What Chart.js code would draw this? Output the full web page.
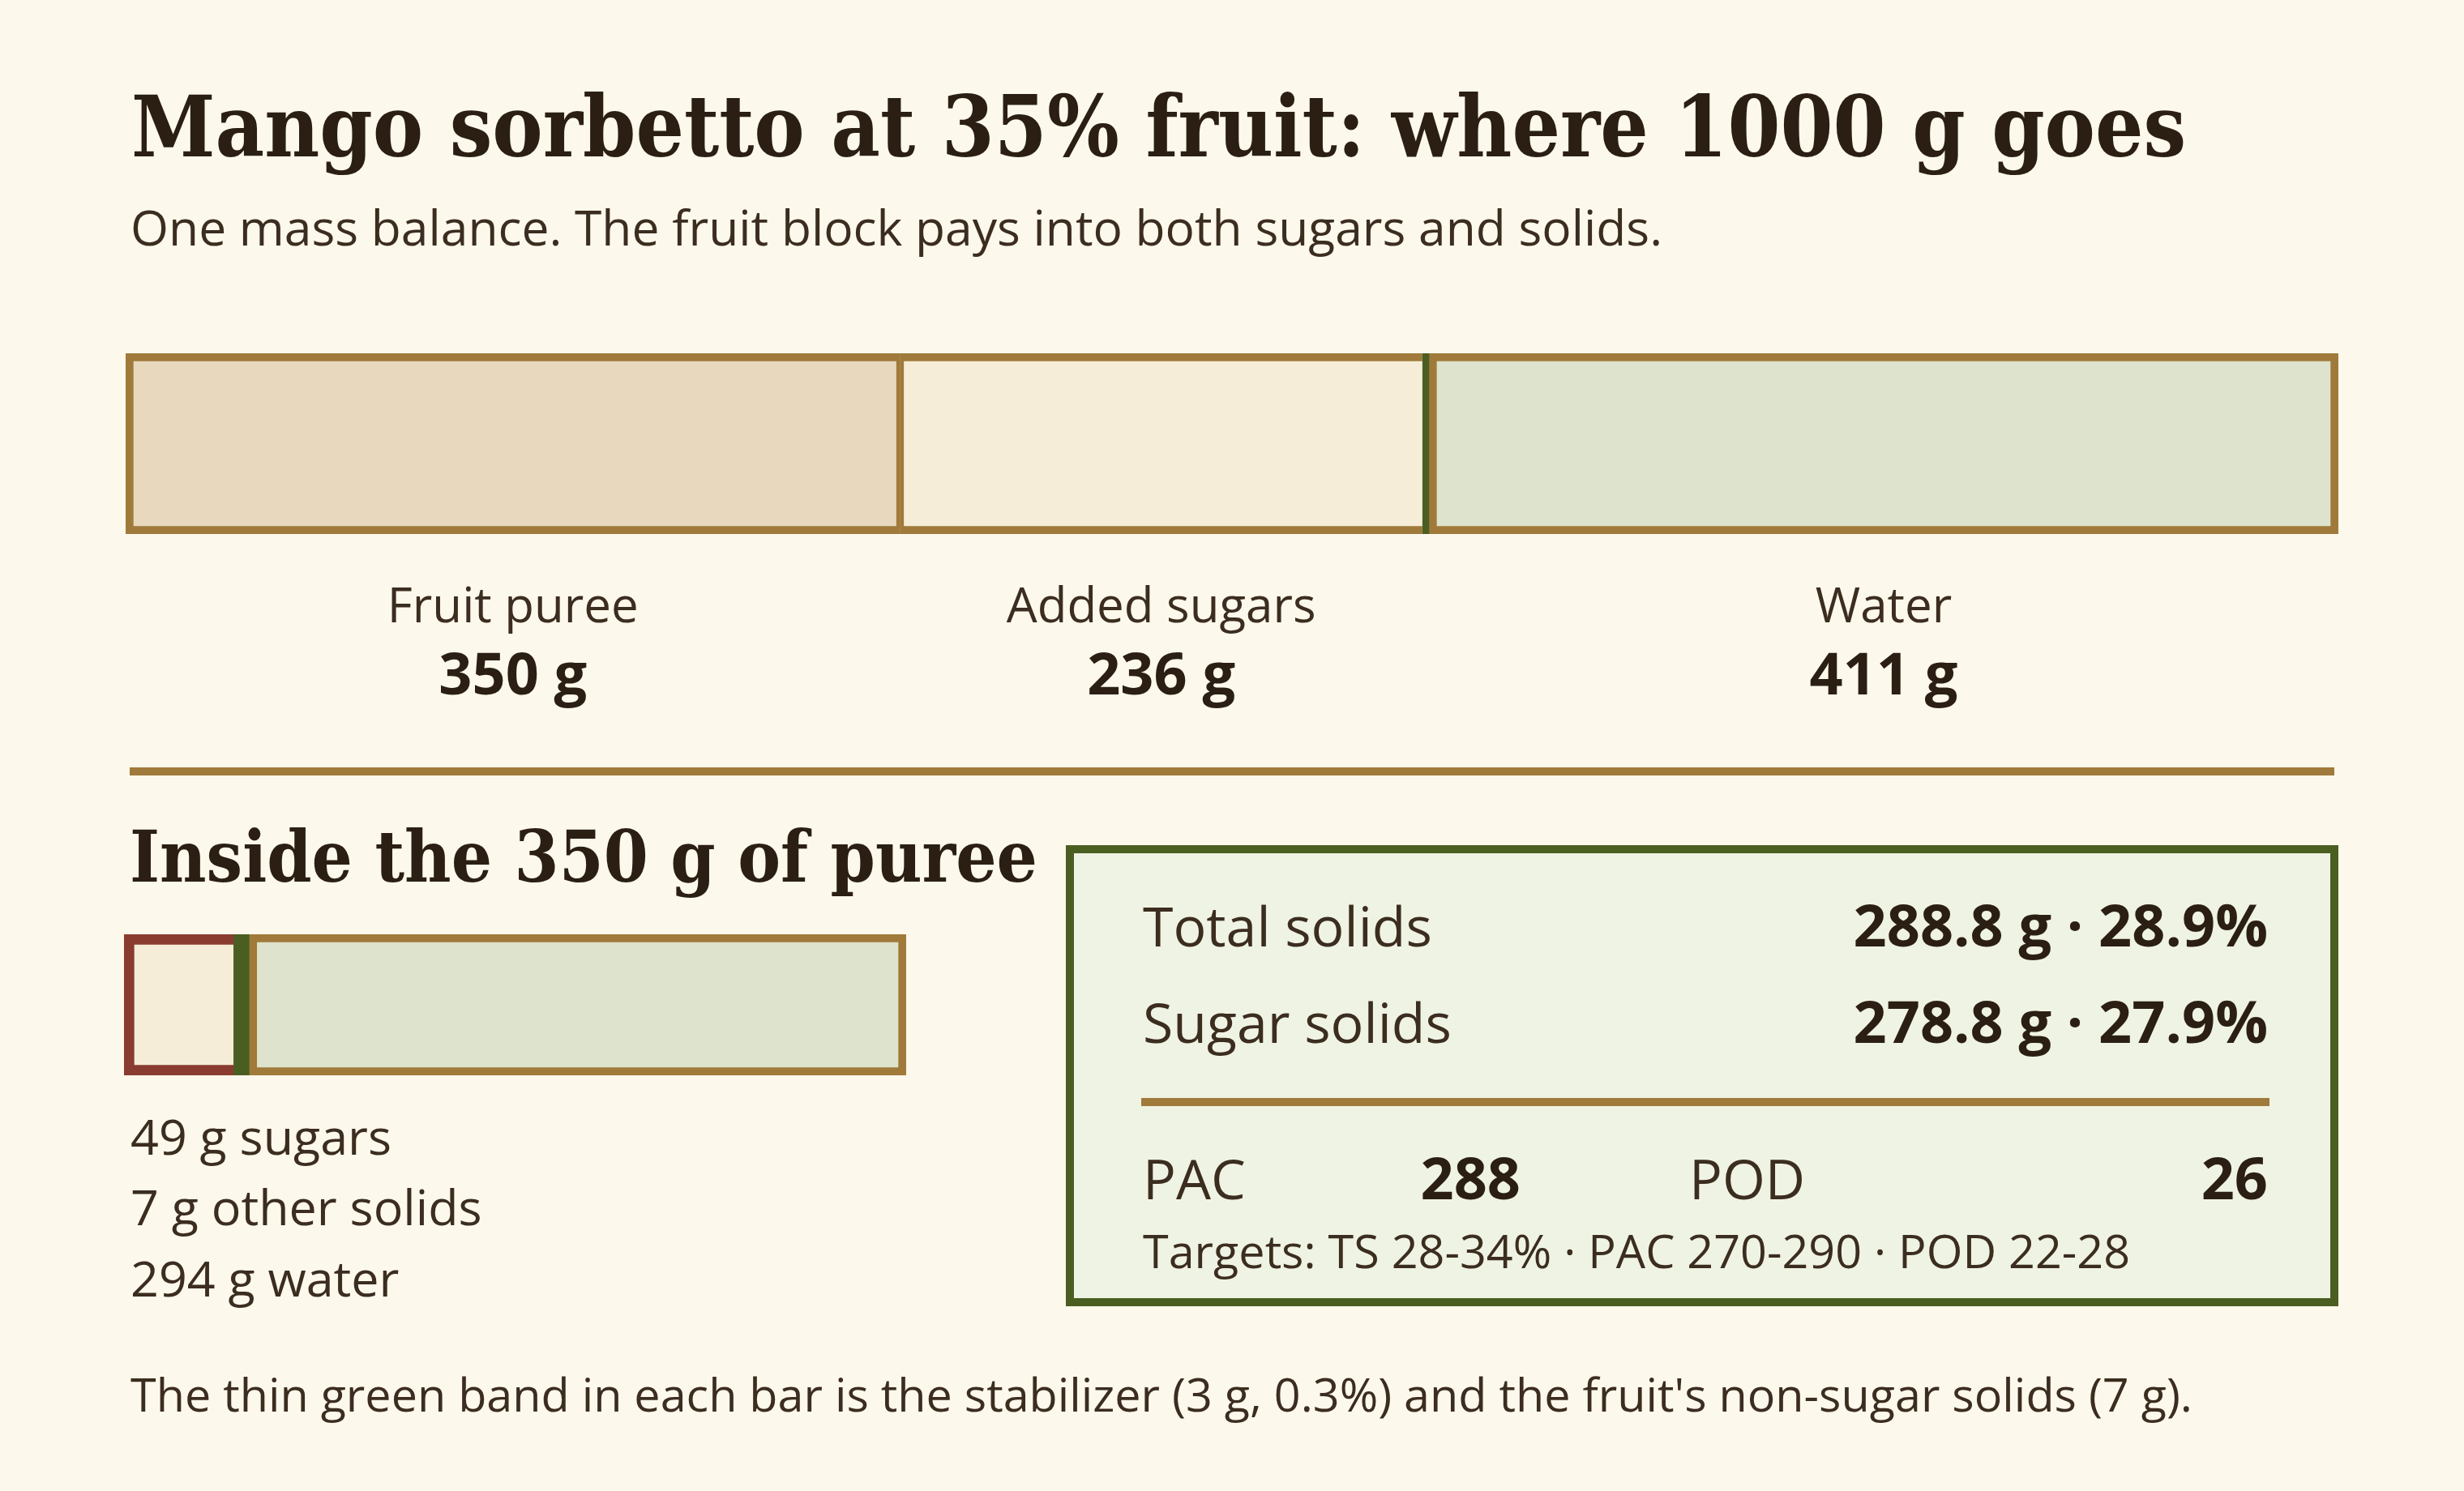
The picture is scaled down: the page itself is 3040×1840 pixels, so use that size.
<!DOCTYPE html>
<html>
<head>
<meta charset="utf-8">
<script src="https://cdn.jsdelivr.net/npm/chart.js@4.4.1/dist/chart.umd.min.js"></script>
<style>
  html, body { margin: 0; padding: 0; }
  body { width: 3040px; height: 1840px; background: #fdf8ec; position: relative; overflow: hidden;
         font-family: "Open Sans", "Noto Sans", sans-serif; color: #3b2d1f; }
  .t { position: absolute; line-height: 1; white-space: nowrap; }
  .serif { font-family: "DejaVu Serif Condensed", "DejaVu Serif", serif; font-stretch: condensed; font-weight: bold; color: #2b1f13; }
  .b { font-weight: bold; color: #2b1f13; }
  .chart { position: absolute; }
  #box { position: absolute; left: 1315px; top: 1043px; width: 1570px; height: 569px; box-sizing: border-box;
         border: 10px solid #4b5e22; background: #eff3e3; }
  .rule { position: absolute; background: #a07a3a; }
</style>
</head>
<body>
<div class="t serif" style="left:162px; top:105px; font-size:104px;">Mango sorbetto at 35% fruit: where 1000 g goes</div>
<div class="t" style="left:161px; top:250px; font-size:60.5px;">One mass balance. The fruit block pays into both sugars and solids.</div>

<div class="chart" style="left:155px; top:436px; width:2730px; height:453px;"><canvas id="chart-mix"></canvas></div>

<div class="rule" style="left:160px; top:947px; width:2720px; height:10px;"></div>

<div class="t serif" style="left:160px; top:1013px; font-size:88px;">Inside the 350 g of puree</div>

<div class="chart" style="left:153px; top:1153px; width:965px; height:174px;"><canvas id="chart-puree"></canvas></div>

<div id="puree-lines"></div>

<div id="box"></div>
<div id="stats"></div>

<div class="t" style="left:161px; top:1692px; font-size:57.5px;">The thin green band in each bar is the stabilizer (3 g, 0.3%) and the fruit's non-sugar solids (7 g).</div>

<script>
// 1000 g batch, left to right
const mixParts = ["Fruit puree", "Added sugars", "Stabilizer", "Water"];
const mixGrams = [350, 236, 3, 411];
const mixLabelled = ["Fruit puree", "Added sugars", "Water"];

// inside the 350 g of puree
const pureeParts = ["sugars", "other solids", "water"];
const pureeGrams = [49, 7, 294];

// stats panel
const statNames = ["Total solids", "Sugar solids"];
const statValues = ["288.8 g · 28.9%", "278.8 g · 27.9%"];
const pacValue = 288;
const podValue = 26;
const targetsText = "Targets: TS 28-34% · PAC 270-290 · POD 22-28";

const GOLD = "#a07a3a";
const GREEN = "#4b5e22";
const RED = "#8a3c30";

const mixStyle = {
  "Fruit puree": { bg: "#e8d8be", border: GOLD, bw: { top: 10, bottom: 10, left: 10, right: 5 } },
  "Added sugars": { bg: "#f5edd7", border: GOLD, bw: { top: 10, bottom: 10, left: 5, right: 0 } },
  "Stabilizer": { bg: GREEN, border: GREEN, bw: 0 },
  "Water": { bg: "#dde3cc", border: GOLD, bw: { top: 10, bottom: 10, left: 10, right: 10 } },
};
const pureeStyle = {
  "sugars": { bg: "#f5edd7", border: RED, bw: { top: 13, bottom: 13, left: 13, right: 0 } },
  "other solids": { bg: GREEN, border: GREEN, bw: 0 },
  "water": { bg: "#dde3cc", border: GOLD, bw: { top: 10, bottom: 10, left: 10, right: 10 } },
};

const segmentLabels = {
  id: "segmentLabels",
  afterDatasetsDraw(chart) {
    const ctx = chart.ctx;
    const bottom = chart.chartArea.bottom;
    ctx.save();
    ctx.textAlign = "center";
    ctx.textBaseline = "alphabetic";
    chart.data.datasets.forEach((ds, i) => {
      if (!mixLabelled.includes(ds.label)) return;
      const bar = chart.getDatasetMeta(i).data[0];
      const cx = (bar.x + bar.base) / 2;
      ctx.fillStyle = "#3b2d1f";
      ctx.font = '60px "Open Sans", sans-serif';
      ctx.fillText(ds.label, cx, bottom + 109);
      ctx.fillStyle = "#2b1f13";
      ctx.font = 'bold 72px "Open Sans", sans-serif';
      ctx.fillText(ds.data[0] + " g", cx, bottom + 198);
    });
    ctx.restore();
  },
};

function stackedBar(canvasId, parts, grams, styles, total, padBottom, plugins) {
  return new Chart(document.getElementById(canvasId), {
    type: "bar",
    data: {
      labels: [""],
      datasets: parts.map((p, i) => ({
        label: p,
        data: [grams[i]],
        backgroundColor: styles[p].bg,
        borderColor: styles[p].border,
        borderWidth: styles[p].bw,
        borderSkipped: false,
        barPercentage: 1,
        categoryPercentage: 1,
      })),
    },
    options: {
      indexAxis: "y",
      responsive: true,
      maintainAspectRatio: false,
      devicePixelRatio: 1,
      animation: false,
      layout: { padding: { top: 0, left: 0, right: 0, bottom: padBottom } },
      scales: {
        x: { stacked: true, min: 0, max: total, display: false },
        y: { stacked: true, display: false },
      },
      plugins: { legend: { display: false }, tooltip: { enabled: false } },
    },
    plugins: plugins,
  });
}

function textAt(parent, text, left, baseline, size, cls, right) {
  const d = document.createElement("div");
  d.className = "t" + (cls ? " " + cls : "");
  d.style.fontSize = size + "px";
  d.style.top = (baseline - 0.888 * size) + "px";
  if (right !== undefined) d.style.right = (3040 - right) + "px";
  else d.style.left = left + "px";
  d.textContent = text;
  parent.appendChild(d);
}

function renderText() {
  const lines = document.getElementById("puree-lines");
  [1425, 1512, 1600].forEach((y, i) => {
    textAt(lines, `${pureeGrams[i]} g ${pureeParts[i]}`, 161, y, 61);
  });

  const stats = document.getElementById("stats");
  [1168, 1287].forEach((y, i) => {
    textAt(stats, statNames[i], 1410, y, 68);
    textAt(stats, statValues[i], 0, y, 72, "b", 2798);
  });
  const r = document.createElement("div");
  r.className = "rule";
  Object.assign(r.style, { left: "1408px", top: "1355px", width: "1392px", height: "10px" });
  stats.appendChild(r);
  textAt(stats, "PAC", 1410, 1480, 68);
  textAt(stats, String(pacValue), 0, 1480, 72, "b", 1876);
  textAt(stats, "POD", 2084, 1480, 68);
  textAt(stats, String(podValue), 0, 1480, 72, "b", 2798);
  textAt(stats, targetsText, 1410, 1566, 57.5);
}

renderText();
stackedBar("chart-mix", mixParts, mixGrams, mixStyle, 1000, 230, [segmentLabels]);
stackedBar("chart-puree", pureeParts, pureeGrams, pureeStyle, 350, 0, []);
</script>
</body>
</html>
